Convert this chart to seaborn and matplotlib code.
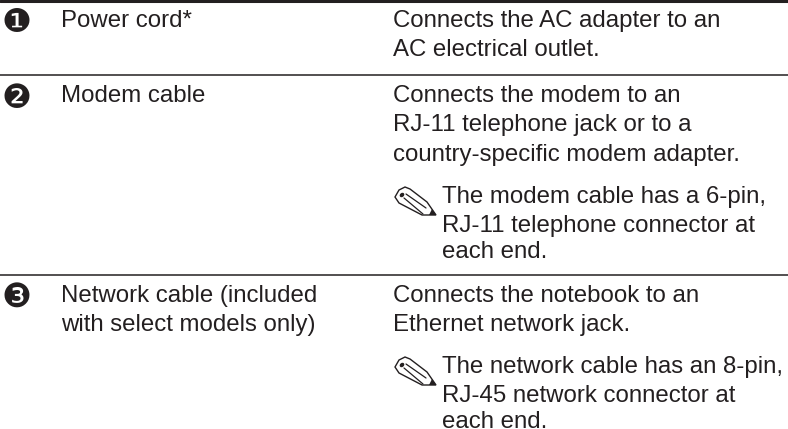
import matplotlib.pyplot as plt
from matplotlib.patches import Ellipse, Polygon
import numpy as np
import seaborn as sns

# table content
badges = ["\u2776", "\u2777", "\u2778"]
names = [["Power cord*"], ["Modem cable"], ["Network cable (included", "with select models only)"]]
descriptions = [
    ["Connects the AC adapter to an", "AC electrical outlet."],
    ["Connects the modem to an", "RJ-11 telephone jack or to a", "country-specific modem adapter."],
    ["Connects the notebook to an", "Ethernet network jack."],
]
notes = [
    None,
    ["The modem cable has a 6-pin,", "RJ-11 telephone connector at", "each end."],
    ["The network cable has an 8-pin,", "RJ-45 network connector at", "each end."],
]
row_tops = [0, 75, 275]
note_baselines = [None, 203, 373]
note_offsets = [0, 29, 54.5]

sns.set_theme(style="white")
plt.rcParams['font.family'] = ['Liberation Sans', 'DejaVu Sans']

fig = plt.figure(figsize=(7.88, 4.29), dpi=100)
ax = fig.add_axes([0, 0, 1, 1])
ax.set_xlim(0, 788)
ax.set_ylim(429, 0)
ax.axis('off')

ink = '#231f20'
fs = 17.25
pitch = 29.5


def pencil(x, y):
    # little note icon, x/y is the top left corner
    body = np.array([[-1, 9], [3, 2], [9, -1], [14, 1], [31, 14], [40, 27], [26, 27], [3, 15]], dtype=float)
    ax.add_patch(Polygon(body + [x, y], closed=True, fill=False, ec=ink, lw=1.0))
    ax.plot([x + 10, x + 30], [y + 6, y + 20], color=ink, lw=0.9)
    ax.plot([x + 8, x + 27], [y + 10, y + 26], color=ink, lw=0.9)
    ax.add_patch(Ellipse((x + 6, y + 7), 5, 4, angle=-40, color=ink, lw=0))
    ax.add_patch(Polygon(np.array([[33, 27], [40, 27], [36, 21]]) + [x, y], closed=True, color=ink, lw=0))


for i, top in enumerate(row_tops):
    ax.axhline(top + (1 if i == 0 else 0), color=ink, lw=2.2 if i == 0 else 1.1)
    base = top + 27
    ax.text(16, top + 23, badges[i], family='DejaVu Sans', fontsize=24, color=ink, ha='center', va='center')
    for j, line in enumerate(names[i]):
        ax.text(61, base + j * pitch, line, fontsize=fs, color=ink, va='baseline')
    for j, line in enumerate(descriptions[i]):
        ax.text(393, base + j * pitch, line, fontsize=fs, color=ink, va='baseline')
    if notes[i]:
        pencil(396, note_baselines[i] - 15)
        for j, line in enumerate(notes[i]):
            ax.text(442, note_baselines[i] + note_offsets[j], line, fontsize=fs, color=ink, va='baseline')

fig.savefig("out.png", dpi=100)
